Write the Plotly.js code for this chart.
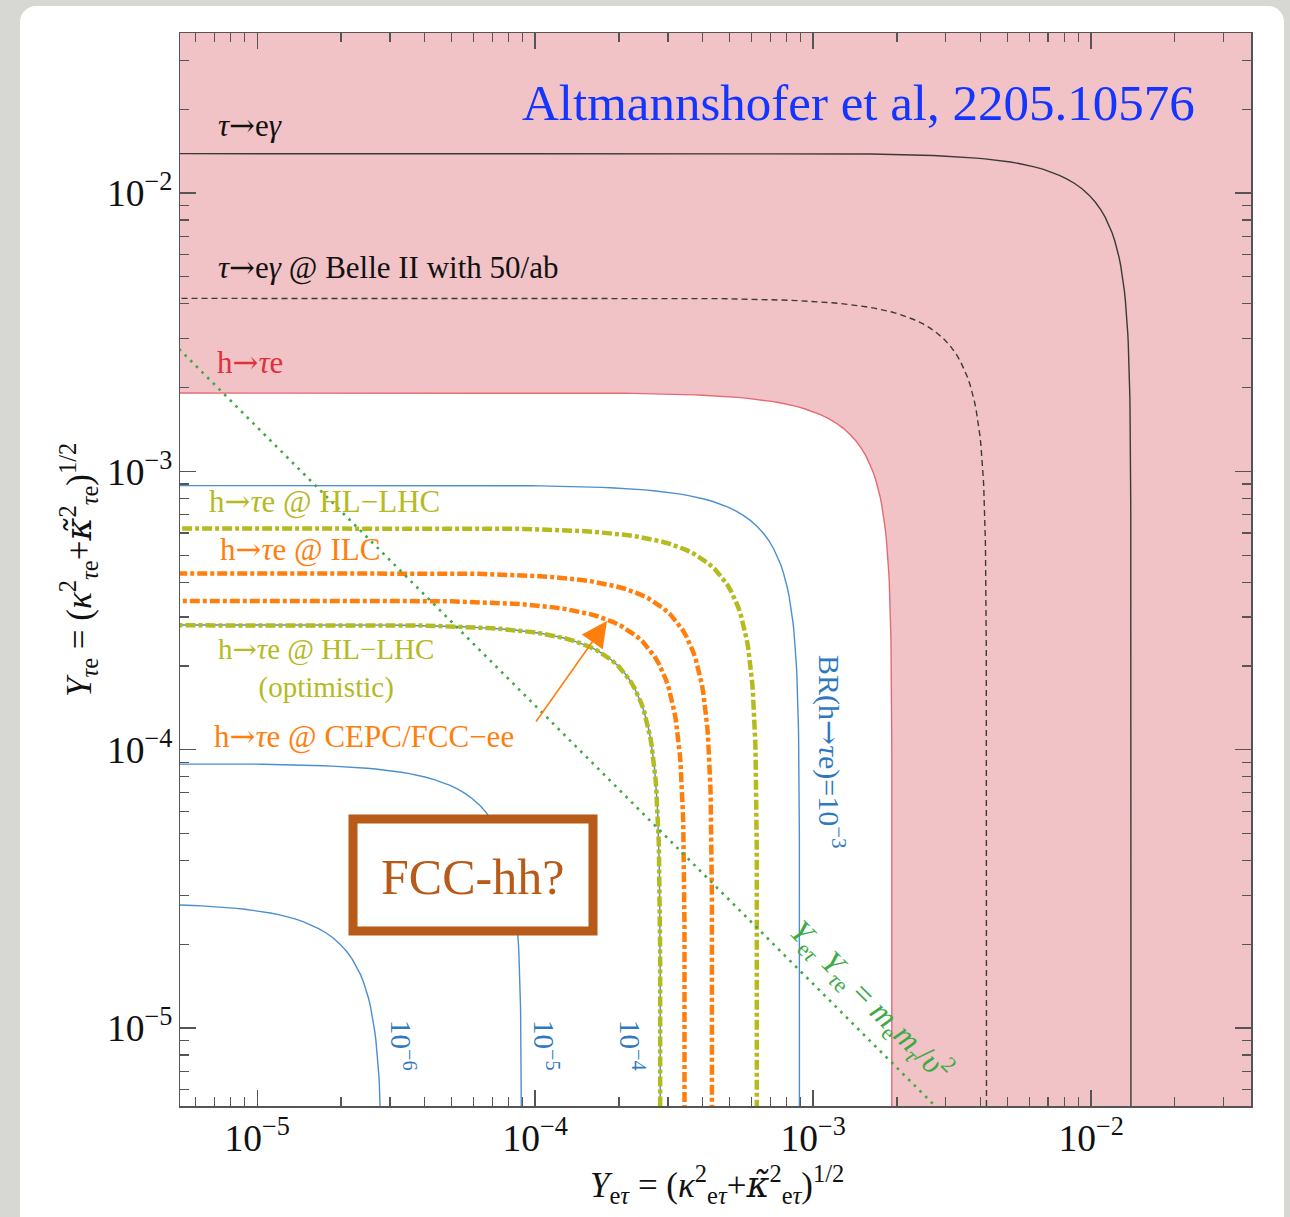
<!DOCTYPE html>
<html>
<head>
<meta charset="utf-8">
<script src="https://cdn.plot.ly/plotly-3.0.1.min.js"></script>
<style>
html,body{margin:0;padding:0;background:#d7d7d4;overflow:hidden;width:1290px;height:1217px;}
#page{position:absolute;left:20px;top:6px;width:1264px;height:1260px;background:#ffffff;border-radius:16px;}
#chart{position:absolute;left:0;top:0;width:1290px;height:1217px;}
</style>
</head>
<body>
<div id="page"></div>
<div id="chart"></div>
<script>
// ---------------- data ----------------
// Present bounds: contours Y_eτ^2 + Y_τe^2 = r^2 (radius r)
const boundNames  = ['τ→eγ', 'τ→eγ @ Belle II with 50/ab', 'h→τe'];
const boundRadii  = [0.0139, 0.0042, 0.00192];

// BR(h→τe) contours
const brLabels = ['10<sup>−3</sup>', '10<sup>−4</sup>', '10<sup>−5</sup>', '10<sup>−6</sup>'];
const brRadii  = [8.93e-4, 2.82e-4, 8.93e-5, 2.82e-5];

// Future h→τe projections
const projNames  = ['h→τe @ HL−LHC', 'h→τe @ ILC', 'h→τe @ CEPC/FCC−ee', 'h→τe @ HL−LHC (optimistic)'];
const projRadii  = [6.28e-4, 4.33e-4, 3.45e-4, 2.82e-4];
const projColors = ['#b5ba1f', '#ff7f0e', '#ff7f0e', '#b5ba1f'];

// Naturalness line  Y_eτ Y_τe = m_e m_τ / v^2
const naturalProduct = 1.44e-8;

// Axis ranges (log10 of Y)
const xRange = [-5.278, -1.425];
const yRange = [-5.280, -1.425];

// ---------------- helpers ----------------
// points of the contour sqrt(x^2+y^2)=r, from the left (horizontal part) to the bottom (vertical part)
function contour(r) {
  const th = [];
  const N = 220;
  for (let i = 0; i <= N; i++) th.push(Math.PI / 4 * Math.pow(10, -7 + 7 * i / N));
  const angles = th.map(t => Math.PI / 2 - t).concat(th.slice().reverse().slice(1));
  return {x: angles.map(a => r * Math.cos(a)), y: angles.map(a => r * Math.sin(a))};
}

const traces = [];

// pink excluded region outside h→τe bound
const red = contour(boundRadii[2]);
traces.push({
  type: 'scatter', mode: 'lines', hoverinfo: 'skip', showlegend: false,
  x: red.x.concat([10, 10, 1e-12]),
  y: red.y.concat([1e-12, 10, 10]),
  fill: 'toself', fillcolor: '#f2c3c6', line: {width: 0}
});

// black bounds
[{r: boundRadii[0], dash: 'solid'}, {r: boundRadii[1], dash: '6px,4px'}].forEach((b, i) => {
  const c = contour(b.r);
  traces.push({type: 'scatter', mode: 'lines', name: boundNames[i], showlegend: false,
    x: c.x, y: c.y, line: {color: '#3a3a3a', width: 1.4, dash: b.dash}});
});
// red bound line
traces.push({type: 'scatter', mode: 'lines', name: boundNames[2], showlegend: false,
  x: red.x, y: red.y, line: {color: '#e46a74', width: 1.4}});

// BR contours
brRadii.forEach((r, i) => {
  const c = contour(r);
  traces.push({type: 'scatter', mode: 'lines', name: 'BR ' + brLabels[i], showlegend: false,
    x: c.x, y: c.y, line: {color: '#4b8fcf', width: 1.4}});
});

// projections
projRadii.forEach((r, i) => {
  const c = contour(r);
  traces.push({type: 'scatter', mode: 'lines', name: projNames[i], showlegend: false,
    x: c.x, y: c.y, line: {color: projColors[i], width: 4.5, dash: '10px,3px,4px,3px'}});
});

// naturalness diagonal
const diagX = [Math.pow(10, xRange[0]) / 10, Math.pow(10, xRange[1]) * 10];
traces.push({type: 'scatter', mode: 'lines', name: 'Y_eτ Y_τe = m_e m_τ / v²', showlegend: false,
  x: diagX, y: diagX.map(v => naturalProduct / v),
  line: {color: '#3caa45', width: 2.6, dash: '2.6px,5.4px'}});

// ---------------- annotations ----------------
const X0 = 180, X1 = 1251, Y0 = 33, Y1 = 1106;
const px = v => (v - X0) / (X1 - X0);
const py = v => (Y1 - v) / (Y1 - Y0);
const ARR = '<span style="font-family:DejaVu Serif">→</span>';
const KT = '<span style="font-family:DejaVu Serif"><i>κ̃</i></span>';
function lab(text, x, y, color, size, extra) {
  return Object.assign({text: text, x: px(x), y: py(y), xref: 'paper', yref: 'paper', showarrow: false,
    xanchor: 'left', yanchor: 'middle', font: {color: color, size: size, family: 'Liberation Serif, serif'}}, extra || {});
}
const annotations = [
  lab('Altmannshofer et al, 2205.10576', 858, 103, '#1434ff', 51, {xanchor: 'center'}),
  lab('<i>τ</i>' + ARR + 'e<i>γ</i>', 216, 125, '#111111', 31),
  lab('<i>τ</i>' + ARR + 'e<i>γ</i> @ Belle II with 50/ab', 216, 267, '#111111', 31),
  lab('h' + ARR + '<i>τ</i>e', 215, 362, '#e0303c', 31),
  lab('h' + ARR + '<i>τ</i>e @ HL−LHC', 207, 501, projColors[0], 31),
  lab('h' + ARR + '<i>τ</i>e @ ILC', 218, 549, projColors[1], 31),
  lab('h' + ARR + '<i>τ</i>e @ HL−LHC<br>(optimistic)', 326, 668, projColors[3], 29, {xanchor: 'center', align: 'center'}),
  lab('h' + ARR + '<i>τ</i>e @ CEPC/FCC−ee', 212, 736, projColors[2], 31),
  lab('BR(h' + ARR + '<i>τ</i>e)=' + brLabels[0], 832, 752, '#2f78c0', 30, {xanchor: 'center', textangle: 90}),
  lab(brLabels[3], 403, 1045, '#2f78c0', 29, {xanchor: 'center', textangle: 90}),
  lab(brLabels[2], 546, 1045, '#2f78c0', 29, {xanchor: 'center', textangle: 90}),
  lab(brLabels[1], 632, 1045, '#2f78c0', 29, {xanchor: 'center', textangle: 90}),
  lab('<i>Y</i><sub>e<i>τ</i></sub> <i>Y</i><sub><i>τ</i>e</sub> = <i>m</i><sub>e</sub><i>m</i><sub><i>τ</i></sub>/<i>υ</i><sup>2</sup>',
      871, 1000, '#3caa45', 32, {xanchor: 'center', textangle: 45}),
  lab('FCC-hh?', 472, 877, '#b85a18', 50, {xanchor: 'center'}),
  {x: px(607), y: py(621), xref: 'paper', yref: 'paper', ax: -72, ay: 102, axref: 'pixel', ayref: 'pixel',
   showarrow: true, arrowhead: 2, arrowsize: 3.2, arrowwidth: 1.6, arrowcolor: '#ff7f0e', text: ''},
  // axis titles
  lab('<i>Y</i><sub>e<i>τ</i></sub> = (<i>κ</i><sup>2</sup><sub>e<i>τ</i></sub>+' + KT + '<sup>2</sup><sub>e<i>τ</i></sub>)<sup>1/2</sup>',
      717, 1184, '#111111', 35, {xanchor: 'center'}),
  lab('<i>Y</i><sub><i>τ</i>e</sub> = (<i>κ</i><sup>2</sup><sub><i>τ</i>e</sub>+' + KT + '<sup>2</sup><sub><i>τ</i>e</sub>)<sup>1/2</sup>',
      78, 570, '#111111', 35, {xanchor: 'center', textangle: -90})
];

const shapes = [
  {type: 'rect', xref: 'paper', yref: 'paper', x0: px(353), x1: px(593), y0: py(931), y1: py(819),
   fillcolor: '#ffffff', line: {color: '#b85a18', width: 9}, layer: 'above'}
];

function axis(range) {
  return {
    type: 'log', range: range, dtick: 1, exponentformat: 'power', showexponent: 'all',
    showgrid: false, zeroline: false, showline: true, linecolor: '#555555', linewidth: 1.5,
    mirror: 'ticks', ticks: 'inside', ticklen: 16, tickwidth: 1.5, tickcolor: '#555555',
    tickfont: {size: 30, color: '#111111', family: 'Liberation Serif, serif'},
    ticklabelstandoff: 0,
    minor: {ticks: 'inside', ticklen: 9, tickwidth: 1.3, tickcolor: '#555555', dtick: 'D1', showgrid: false}
  };
}

const layout = {
  width: 1290, height: 1217,
  margin: {l: X0, r: 1290 - X1, t: Y0, b: 1217 - Y1, pad: 0},
  paper_bgcolor: 'rgba(0,0,0,0)', plot_bgcolor: '#ffffff',
  font: {family: 'Liberation Serif, serif', color: '#111111'},
  showlegend: false,
  xaxis: axis(xRange),
  yaxis: axis(yRange),
  annotations: annotations,
  shapes: shapes
};

Plotly.newPlot('chart', traces, layout, {staticPlot: true, displayModeBar: false});
</script>
</body>
</html>
